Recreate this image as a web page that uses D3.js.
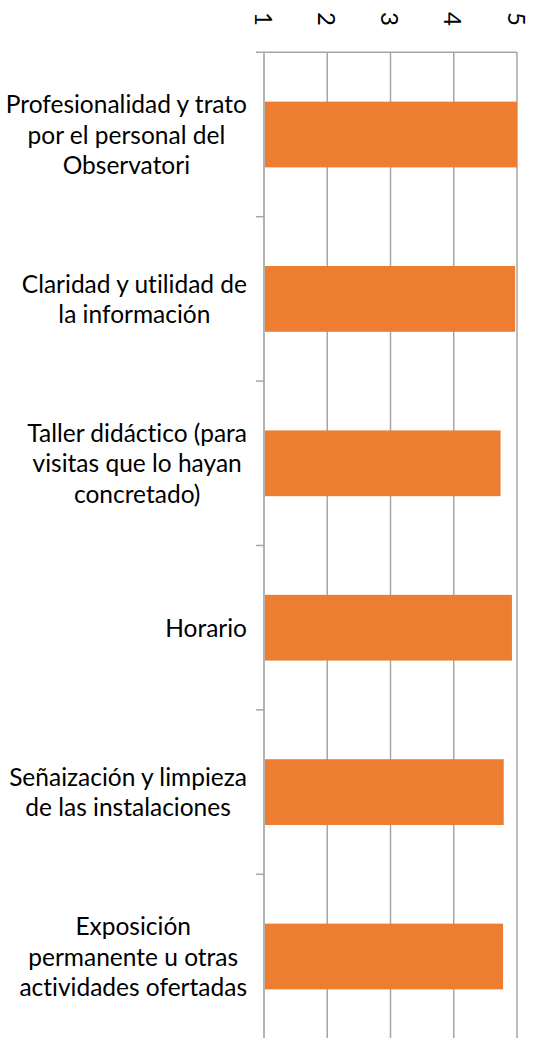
<!DOCTYPE html>
<html>
<head>
<meta charset="utf-8">
<script src="https://cdn.jsdelivr.net/npm/d3@7"></script>
<style>
  body { margin: 0; background: #fff; }
  svg { display: block; font-family: Lato, "Open Sans", sans-serif; font-variant-ligatures: none; }
</style>
</head>
<body>
<svg id="chart" width="540" height="1038"></svg>
<script>
// categories, top to bottom
var categories = [
    ["Profesionalidad y trato", "por el personal del", "Observatori"],
    ["Claridad y utilidad de", "la información"],
    ["Taller didáctico (para", "visitas que lo hayan", "concretado)"],
    ["Horario"],
    ["Señaización y limpieza", "de las instalaciones"],
    ["Exposición", "permanente u otras", "actividades ofertadas"]
];
var values = [5.0, 4.97, 4.74, 4.92, 4.79, 4.78];
var tickValues = [1, 2, 3, 4, 5];

var svg = d3.select("#chart");
var plotTop = 52.3, plotBottom = 1038.7;
var plotLeft = 264, plotRight = 517;

var x = d3.scaleLinear().domain([1, 5]).range([plotLeft, plotRight]);
var y = d3.scaleBand()
    .domain(d3.range(categories.length))
    .range([plotTop, plotBottom])
    .paddingInner(0.6)
    .paddingOuter(0.3);

// value gridlines
svg.selectAll(".grid")
    .data(tickValues)
    .enter()
    .append("line")
    .attr("class", "grid")
    .attr("x1", function(d){ return x(d); })
    .attr("x2", function(d){ return x(d); })
    .attr("y1", plotTop)
    .attr("y2", plotBottom)
    .attr("stroke", function(d){ return d == 1 ? "#9a9a9a" : "#a6a6a6"; })
    .attr("stroke-width", 1.5);

// top axis line
svg.append("line")
    .attr("x1", plotLeft - 8).attr("x2", plotRight)
    .attr("y1", plotTop).attr("y2", plotTop)
    .attr("stroke", "#a6a6a6").attr("stroke-width", 1.5);

// category tick marks at band boundaries
var step = y.step();
svg.selectAll(".ctick")
    .data(d3.range(1, categories.length))
    .enter()
    .append("line")
    .attr("class", "ctick")
    .attr("x1", plotLeft - 8).attr("x2", plotLeft)
    .attr("y1", function(i){ return plotTop + i * step; })
    .attr("y2", function(i){ return plotTop + i * step; })
    .attr("stroke", "#a6a6a6").attr("stroke-width", 1.5);

// bars
svg.selectAll(".bar")
    .data(values)
    .enter()
    .append("rect")
    .attr("class", "bar")
    .attr("x", x(1) + 1)
    .attr("y", function(d, i){ return y(i); })
    .attr("width", function(d){ return x(d) - x(1) - 1; })
    .attr("height", y.bandwidth())
    .attr("fill", "#ed7d31");

// value tick labels, rotated
svg.selectAll(".vlabel")
    .data(tickValues)
    .enter()
    .append("text")
    .attr("class", "vlabel")
    .attr("transform", function(d){ return "translate(" + x(d) + ",19) rotate(90)"; })
    .attr("text-anchor", "middle")
    .attr("dominant-baseline", "central")
    .attr("font-size", 24)
    .attr("fill", "#000")
    .text(function(d){ return d; });

// category labels: lines centred within block, block right-aligned
var lineH = 30.5;
var labels = svg.selectAll(".clabel")
    .data(categories)
    .enter()
    .append("text")
    .attr("class", "clabel")
    .attr("font-size", 24.5)
    .attr("fill", "#000")
    .attr("text-anchor", "middle");

labels.each(function(lines, i){
    var g = d3.select(this);
    var cy = y(i) + y.bandwidth() / 2;
    var spans = g.selectAll("tspan")
        .data(lines)
        .enter()
        .append("tspan")
        .attr("y", function(d, j){ return cy + 9 + (j - (lines.length - 1) / 2) * lineH; })
        .text(function(d){ return d; });
    var maxW = 0;
    spans.each(function(){ maxW = Math.max(maxW, this.getComputedTextLength()); });
    spans.attr("x", 247 - maxW / 2);
});
</script>
</body>
</html>
